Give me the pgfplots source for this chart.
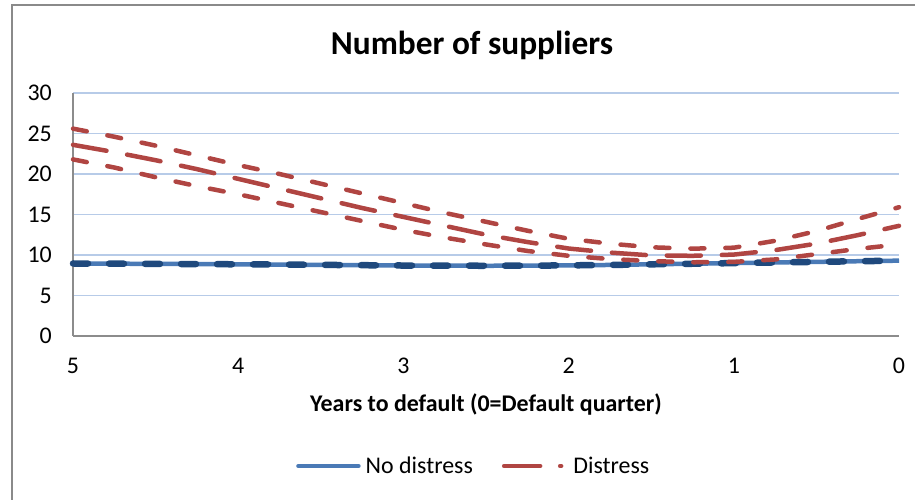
\documentclass[border=0pt]{standalone}
\usepackage{fontspec}
\setmainfont{Carlito}
\usepackage{pgfplots}
\usepackage{pgfplotstable}
\pgfplotsset{compat=1.18}
\definecolor{blueline}{HTML}{4A7AB6}
\definecolor{darkblue}{HTML}{1F497D}
\definecolor{redline}{HTML}{B04542}
\definecolor{gridblue}{HTML}{B7CBE8}
\definecolor{axisgray}{HTML}{8C8C8C}
\definecolor{framegray}{HTML}{8A8A8A}
\pgfplotstableread{
x      blue  center upper lower
-5.00  8.95  23.6   25.6  21.8
-4.75  8.93  22.7   24.6  20.8
-4.50  8.90  21.7   23.5  19.6
-4.25  8.88  20.6   22.3  18.5
-4.00  8.85  19.4   21.1  17.5
-3.75  8.82  18.2   20.0  16.4
-3.50  8.78  17.0   18.8  15.3
-3.25  8.74  15.8   17.6  14.2
-3.00  8.70  14.7   16.4  13.1
-2.75  8.68  13.6   15.2  12.15
-2.50  8.67  12.5   14.1  11.3
-2.25  8.68  11.6   13.0  10.5
-2.00  8.72  10.8   12.0  9.9
-1.75  8.77  10.3   11.4  9.5
-1.50  8.85  9.95   10.95 9.25
-1.25  8.92  9.9    10.78 9.1
-1.00  9.00  10.05  10.9  9.15
-0.75  9.08  10.6   11.75 9.45
-0.50  9.15  11.4   12.95 10.1
-0.25  9.23  12.45  14.45 10.75
0.00   9.30  13.6   15.9  11.3
}\data
\begin{document}
\begin{tikzpicture}[x=1bp,y=1bp]
\useasboundingbox (0,0) rectangle (915,500);
\draw[framegray, line width=2bp] (12,0) -- (12,495) -- (915,495);
\begin{axis}[
  at={(73bp,164bp)}, anchor=south west,
  scale only axis, width=826bp, height=243bp,
  xmin=-5, xmax=0, ymin=0, ymax=30,
  xtick={-5,-4,-3,-2,-1,0},
  xticklabels={5,4,3,2,1,0},
  ytick={0,5,10,15,20,25,30},
  major tick length=0pt,
  axis x line*=bottom, axis y line*=left,
  axis line style={color=axisgray, line width=1.3bp},
  ymajorgrids,
  major grid style={color=gridblue, line width=1.4bp},
  /pgf/number format/assume math mode=true,
  tick label style={font=\fontsize{24}{29}\selectfont, inner sep=0pt},
  yticklabel style={anchor=east, xshift=-21bp},
  xticklabel style={anchor=north, yshift=-22bp},
  xlabel={\textbf{Years to default (0=Default quarter)}},
  xlabel style={font=\fontsize{24}{29}\selectfont, at={(axis description cs:0.5,-0.284)}, anchor=center},
  title={\textbf{Number of suppliers}},
  title style={font=\fontsize{33.5}{40}\selectfont, at={(axis description cs:0.483,1.172)}, anchor=center},
  legend columns=2,
  legend style={draw=none, fill=none, at={(0.487,-0.535)}, anchor=center,
    font=\fontsize{24}{29}\selectfont,
    nodes={inner xsep=5bp},
    /tikz/every even column/.append style={column sep=24bp}},
  clip=false,
]
\addplot[blueline, line width=4.5bp,
  legend image code/.code={\draw[blueline, line width=4.5bp, line cap=round] (0bp,0bp) -- (60bp,0bp);}]
  table[x=x, y=blue]{\data};
\addlegendentry{No distress}
\addplot[redline, line width=4.5bp, line cap=round, dash pattern=on 34bp off 21bp,
  legend image code/.code={\draw[redline, line width=4.5bp, line cap=round, dash pattern=on 36bp off 20bp on 1bp off 20bp] (0bp,0bp) -- (62bp,0bp);}]
  table[x=x, y=center]{\data};
\addlegendentry{Distress}
\addplot[forget plot, darkblue, line width=6.5bp, line cap=round, dash pattern=on 15bp off 21bp]
  table[x=x, y=blue]{\data};
\addplot[forget plot, redline, line width=4.5bp, line cap=round, dash pattern=on 14bp off 21bp]
  table[x=x, y=upper]{\data};
\addplot[forget plot, redline, line width=4.5bp, line cap=round, dash pattern=on 14bp off 21bp]
  table[x=x, y=lower]{\data};
\end{axis}
\end{tikzpicture}
\end{document}
